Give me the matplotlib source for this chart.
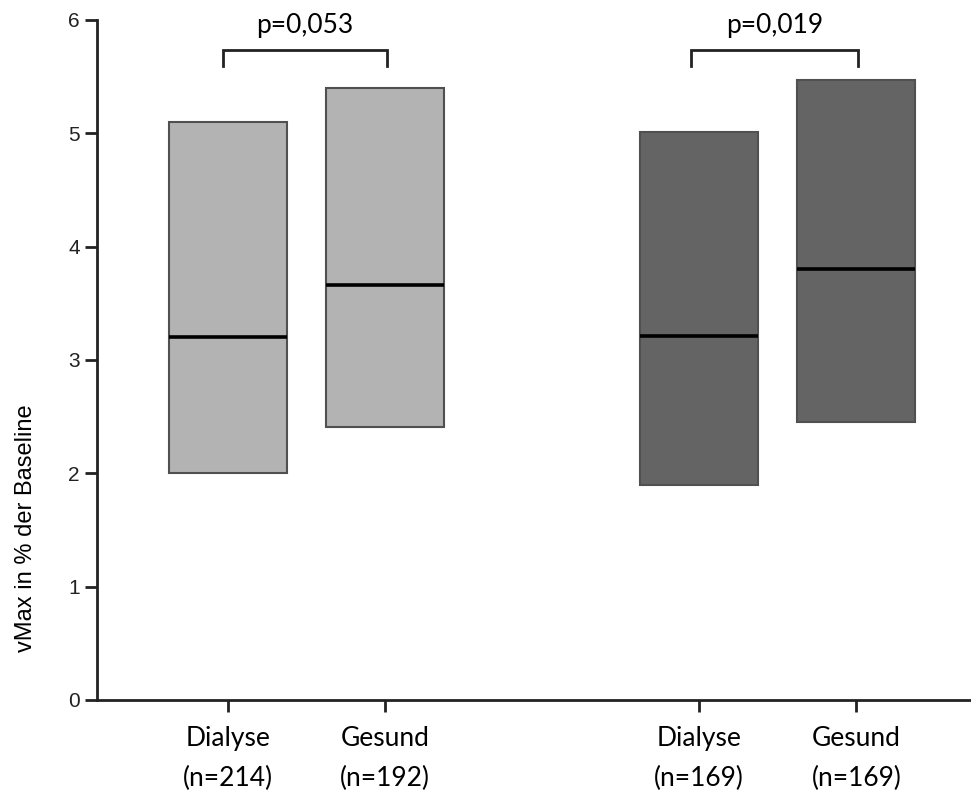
import matplotlib
matplotlib.use("Agg")
import matplotlib.pyplot as plt

# Werte je Gruppe: unteres Quartil, Median, oberes Quartil
gruppen = ["Dialyse\n(n=214)", "Gesund\n(n=192)", "Dialyse\n(n=169)", "Gesund\n(n=169)"]
positionen = [1, 2, 4, 5]
q1 = [2.00, 2.41, 1.90, 2.45]
median = [3.20, 3.66, 3.21, 3.80]
q3 = [5.10, 5.40, 5.01, 5.47]
farben = ["#b3b3b3", "#b3b3b3", "#646464", "#646464"]

# Signifikanz-Klammern: (von, bis, Text)
vergleiche = [(0.97, 2.01, "p=0,053"), (3.95, 5.01, "p=0,019")]

fig = plt.figure(figsize=(9.71, 7.92), dpi=100)
ax = fig.add_axes([0.0999, 0.1162, 0.9001, 0.8586])

breite = 0.75
hoehe = [b - a for a, b in zip(q1, q3)]
ax.bar(positionen, hoehe, bottom=q1, width=breite, color=farben,
       edgecolor="#505050", linewidth=1.5, zorder=2)
for x, m in zip(positionen, median):
    ax.hlines(m, x - breite / 2, x + breite / 2, color="black", linewidth=2.6, zorder=3)

for x0, x1, txt in vergleiche:
    ax.plot([x0, x0, x1, x1], [5.59, 5.735, 5.735, 5.59], color="#222222",
            linewidth=2, clip_on=False, solid_joinstyle="miter")
    ax.text((x0 + x1) / 2, 5.885, txt, ha="center", va="baseline",
            fontsize=19, family="Lato", clip_on=False)

ax.set_xlim(0.166, 5.73)
ax.set_ylim(0, 6)
ax.set_yticks(range(0, 7))
ax.set_xticks(positionen)
ax.set_xticklabels(gruppen, fontsize=19, family="Lato", linespacing=1.75)
for lbl in ax.get_yticklabels():
    lbl.set_family("Liberation Sans")
    lbl.set_fontsize(15)
    lbl.set_color("#222222")

ax.set_ylabel("vMax in % der Baseline", fontsize=17, family="Liberation Sans")
ax.yaxis.set_label_coords(-0.069, 0.253)

for s in ["top", "right"]:
    ax.spines[s].set_visible(False)
for s in ["left", "bottom"]:
    ax.spines[s].set_linewidth(2)
    ax.spines[s].set_color("#222222")
ax.tick_params(axis="both", length=8.5, width=2, color="#222222")
ax.tick_params(axis="y", pad=4)
ax.tick_params(axis="x", pad=10)

fig.savefig("out.png", dpi=100)
